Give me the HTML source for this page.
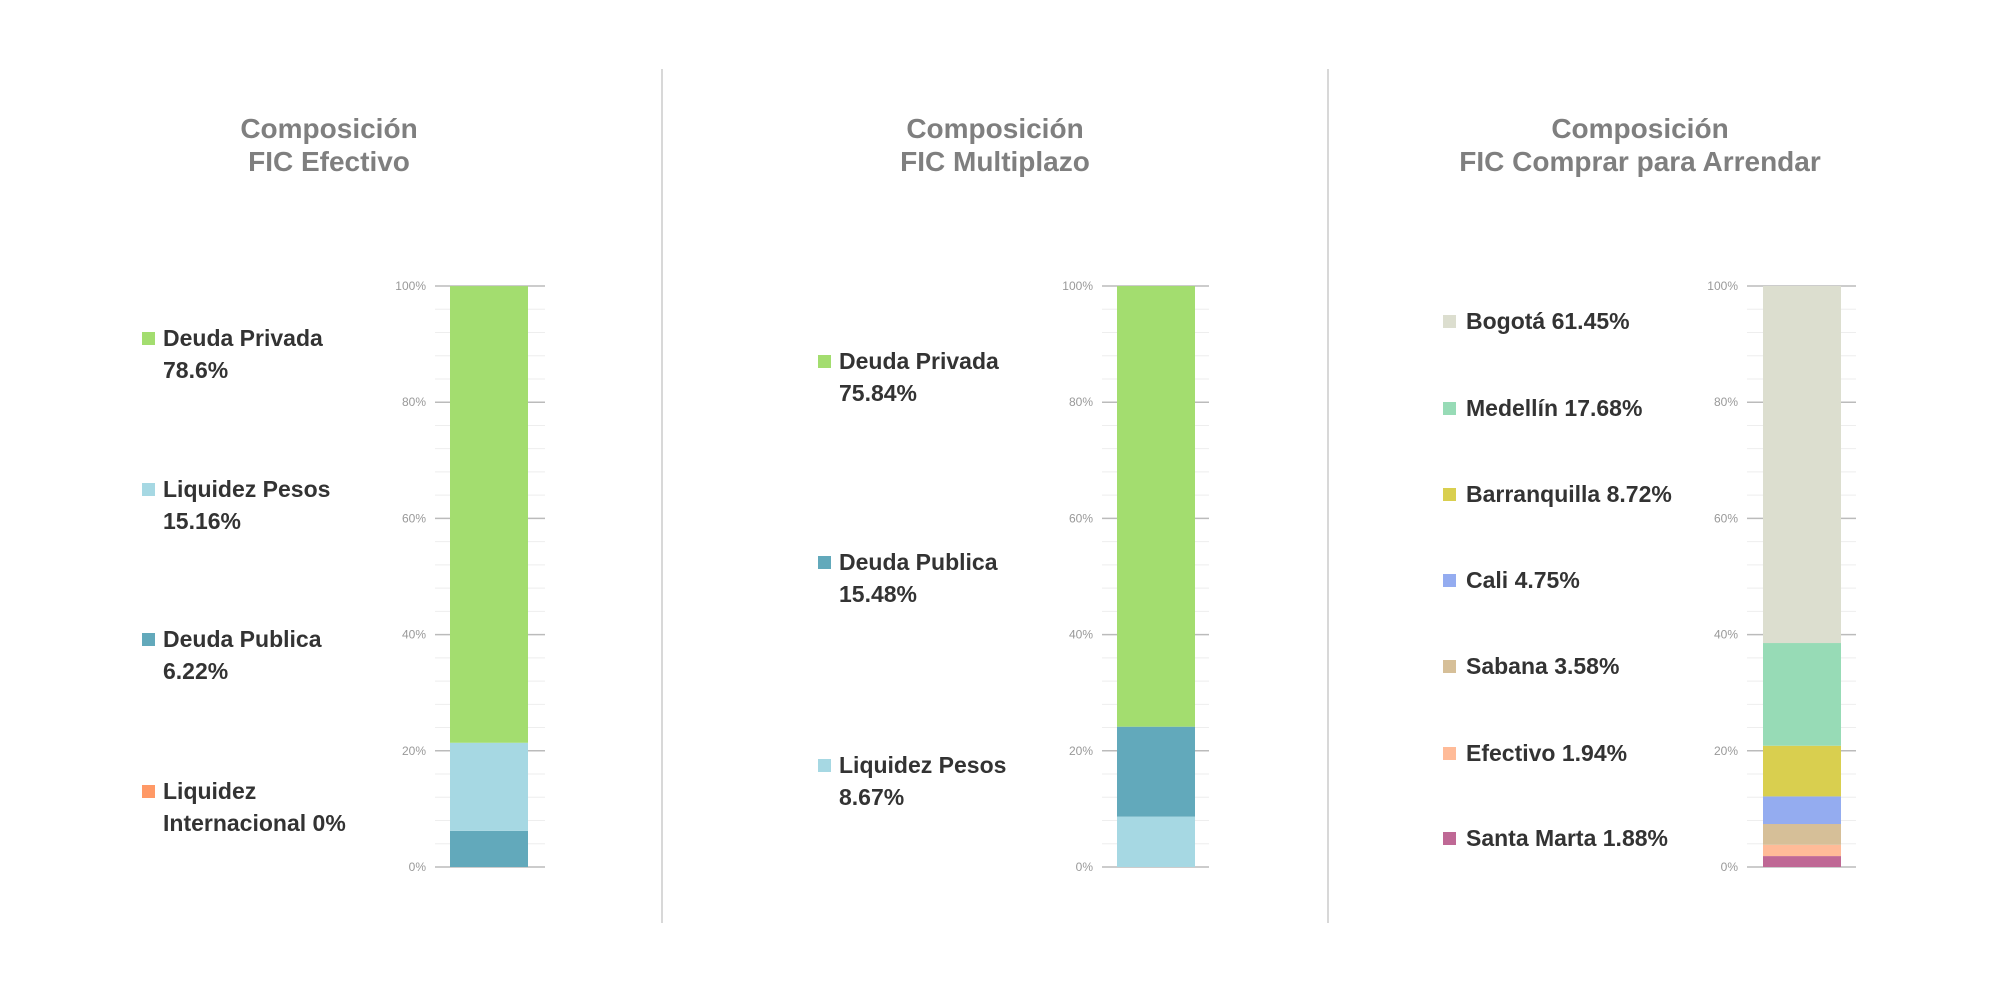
<!DOCTYPE html>
<html><head><meta charset="utf-8">
<style>
body{margin:0;width:2000px;height:1000px;background:#fff;position:relative;overflow:hidden;font-family:"Liberation Sans",sans-serif}
.t{position:absolute;color:#7f7f7f;font-weight:bold;font-size:28px;text-align:center;line-height:33px;width:600px}
.lg{position:absolute;font-weight:bold;font-size:23px;color:#333;line-height:32px}
.sq{position:absolute;width:13px;height:13px}
svg{position:absolute;left:0;top:0}
</style></head><body>
<div class="t" style="left:29px;top:112px">Composición<br>FIC Efectivo</div>
<div class="t" style="left:695px;top:112px">Composición<br>FIC Multiplazo</div>
<div class="t" style="left:1340px;top:112px">Composición<br>FIC Comprar para Arrendar</div>
<div id="legends"></div>
<svg id="chart" width="2000" height="1000">
<line x1="662" y1="69" x2="662" y2="923" stroke="#ccc" stroke-width="1.5"/>
<line x1="1328" y1="69" x2="1328" y2="923" stroke="#ccc" stroke-width="1.5"/>
</svg>
<script>
const c1Labels=["Deuda Publica","Liquidez Pesos","Deuda Privada"];
const c1Values=[6.22,15.16,78.6];
const c2Labels=["Liquidez Pesos","Deuda Publica","Deuda Privada"];
const c2Values=[8.67,15.48,75.84];
const c3Labels=["Santa Marta","Efectivo","Sabana","Cali","Barranquilla","Medellín","Bogotá"];
const c3Values=[1.88,1.94,3.58,4.75,8.72,17.68,61.45];
const tickLabels=["0%","20%","40%","60%","80%","100%"];
const tickValues=[0,20,40,60,80,100];

const ns="http://www.w3.org/2000/svg";
const svg=document.getElementById('chart');
const Y0=867,Y1=286;
function y(v){return Y0-(Y0-Y1)*v/100;}
function mk(tag,attrs){const e=document.createElementNS(ns,tag);for(const k in attrs)e.setAttribute(k,attrs[k]);svg.appendChild(e);return e;}
function chart(id,ax0,ax1,bx0,bx1,values,colors){
  for(let v=0;v<=100;v+=4){
    const major=v%20===0;
    const l=mk('line',{x1:ax0,x2:ax1,y1:y(v),y2:y(v),stroke:major?'#bbb':'#eee','stroke-width':major?1.5:1});
    
    
  }
  tickValues.forEach((v,i)=>{
    const t=mk('text',{x:ax0-9,y:y(v)+4,'text-anchor':'end','font-size':12,fill:'#999','font-family':'Liberation Sans, sans-serif'});
    t.textContent=tickLabels[i];
    
    
  });
  let acc=0;
  values.forEach((v,i)=>{
    const r=mk('rect',{x:bx0,width:bx1-bx0,y:y(acc+v),height:y(acc)-y(acc+v),fill:colors[i]});
    
    
    acc+=v;
  });
}
chart('chart1',435,545,450,528,c1Values,['#62a9bb','#a6d8e3','#a3dd6f']);
chart('chart2',1102,1209,1117,1195,c2Values,['#a6d8e3','#62a9bb','#a3dd6f']);
chart('chart3',1747,1856,1763,1841,c3Values,['#bf6895','#ffbb98','#d6bf98','#94acf0','#d9cf4f','#97dbb6','#dcdecf']);

const L=document.getElementById('legends');
function leg(sx,tx,ty,color,html,name){
  const s=document.createElement('div');s.className='sq';s.style.left=sx+'px';s.style.top=(ty-6)+'px';s.style.background=color;
  
  
  const d=document.createElement('div');d.className='lg';d.style.left=tx+'px';d.style.top=(ty-16)+'px';d.innerHTML=html;
  
  
  L.appendChild(s);L.appendChild(d);
}
leg(142,163,338,'#a3dd6f','Deuda Privada<br>78.6%','legend-deuda-privada-1');
leg(142,163,489,'#a6d8e3','Liquidez Pesos<br>15.16%','legend-liquidez-pesos-1');
leg(142,163,639,'#62a9bb','Deuda Publica<br>6.22%','legend-deuda-publica-1');
leg(142,163,791,'#ff9966','Liquidez<br>Internacional 0%','legend-liquidez-internacional-1');
leg(818,839,361,'#a3dd6f','Deuda Privada<br>75.84%','legend-deuda-privada-2');
leg(818,839,562,'#62a9bb','Deuda Publica<br>15.48%','legend-deuda-publica-2');
leg(818,839,765,'#a6d8e3','Liquidez Pesos<br>8.67%','legend-liquidez-pesos-2');
const c3c=['#dcdecf','#97dbb6','#d9cf4f','#94acf0','#d6bf98','#ffbb98','#bf6895'];
const c3y=[321,408,494,580,666,753,838];
for(let i=0;i<7;i++){const k=6-i;leg(1443,1466,c3y[i],c3c[i],c3Labels[k]+' '+c3Values[k]+'%','legend-city-'+i);}
</script>
</body></html>
